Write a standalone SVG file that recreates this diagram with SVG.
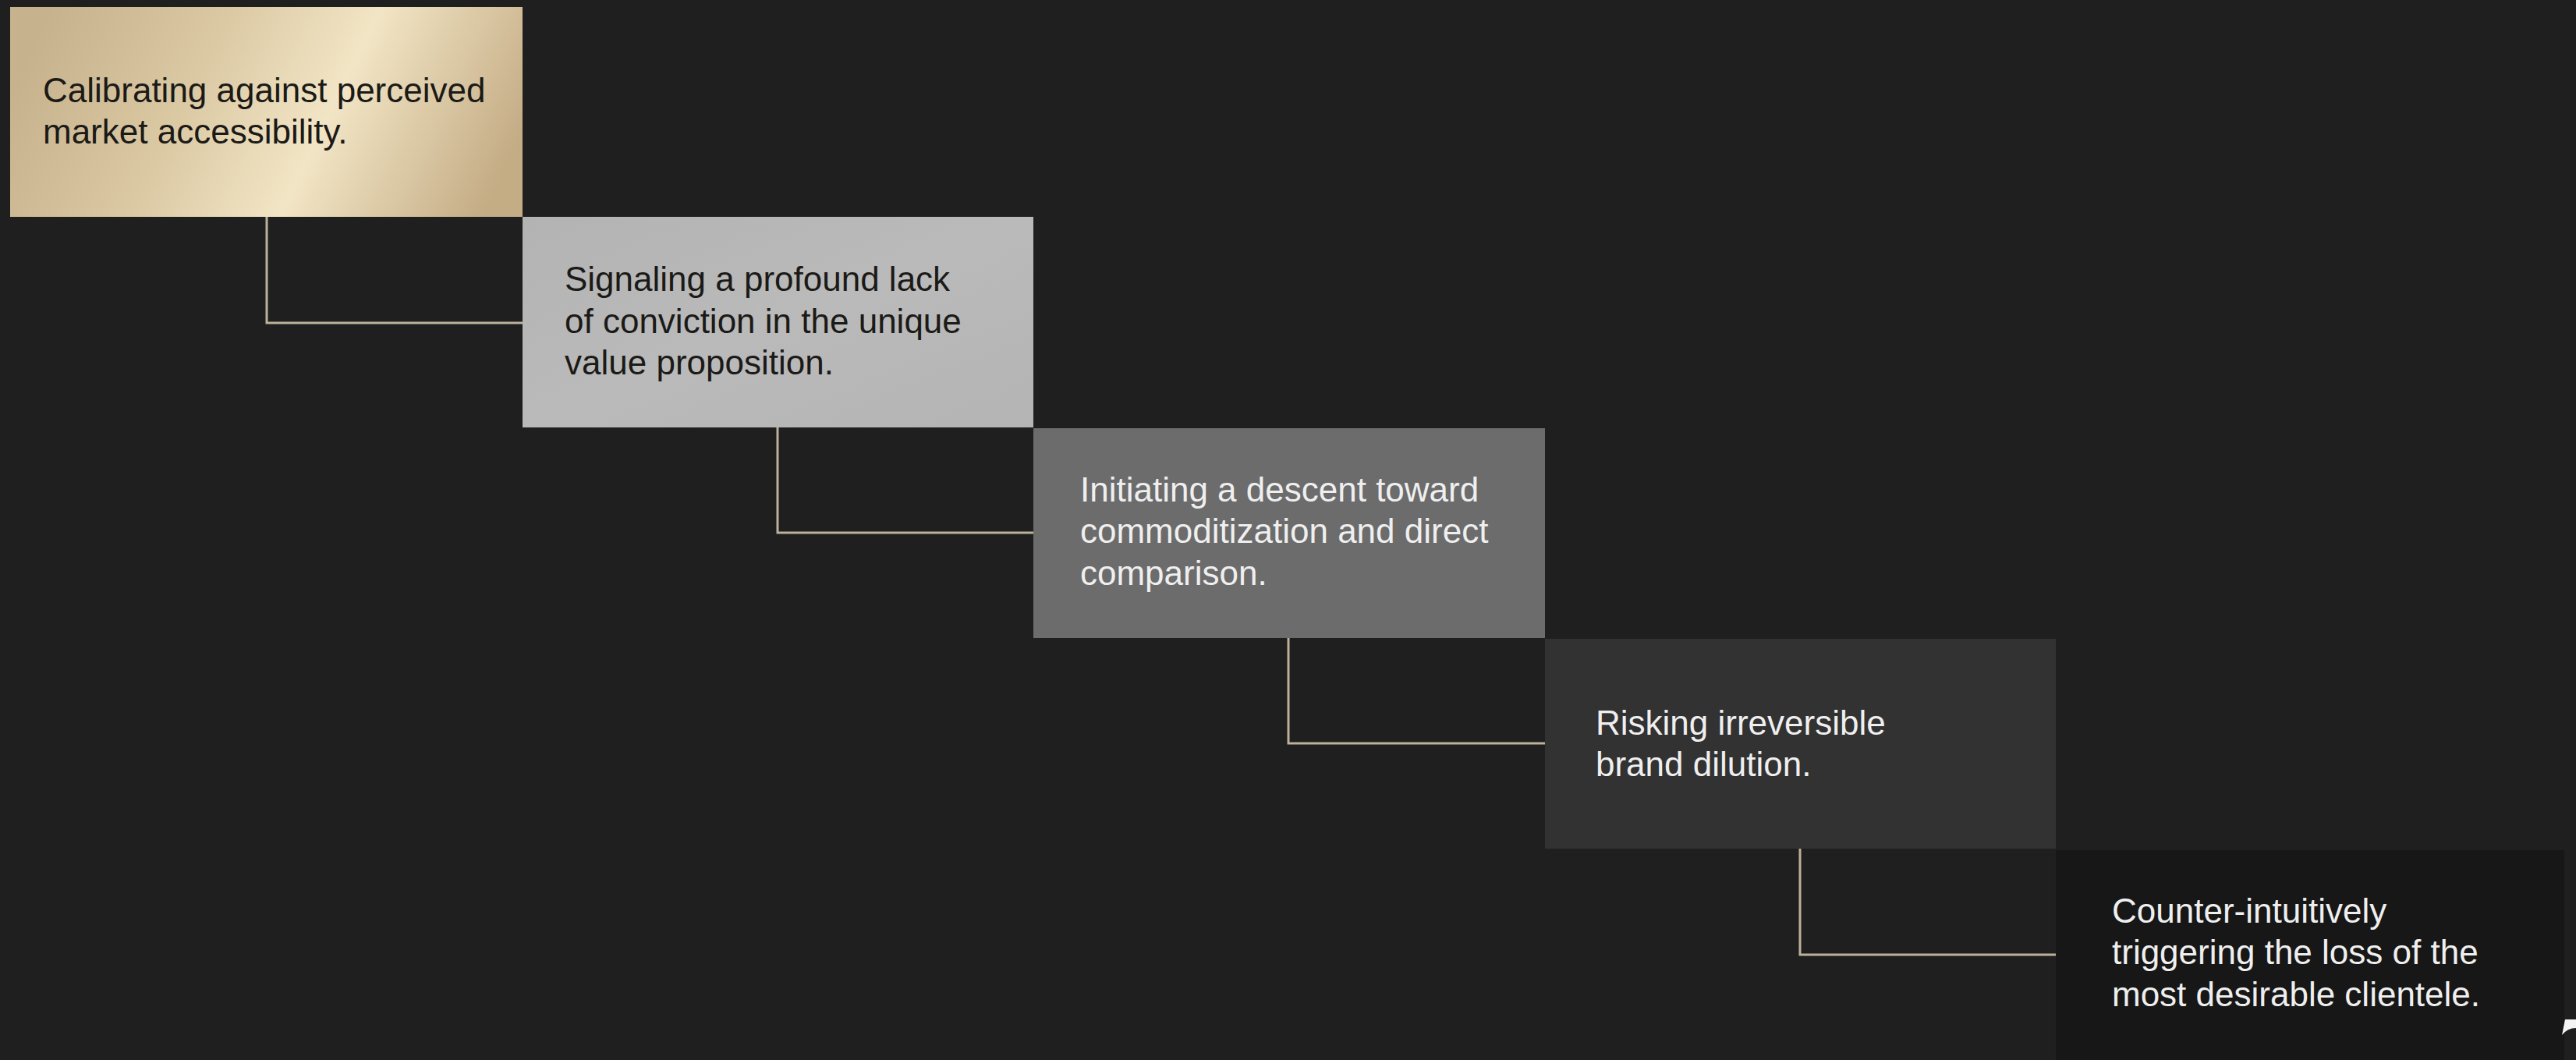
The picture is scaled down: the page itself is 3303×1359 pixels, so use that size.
<svg xmlns="http://www.w3.org/2000/svg" width="3303" height="1359" viewBox="0 0 3303 1359">
  <defs>
    <linearGradient id="gold" x1="0" y1="0.4" x2="1" y2="0.6">
      <stop offset="0" stop-color="#c6b28d"/>
      <stop offset="0.35" stop-color="#dccaa5"/>
      <stop offset="0.62" stop-color="#f2e5c5"/>
      <stop offset="1" stop-color="#c4ac85"/>
    </linearGradient>
    <linearGradient id="silver" x1="0" y1="0" x2="1" y2="1">
      <stop offset="0" stop-color="#b3b3b3"/>
      <stop offset="0.5" stop-color="#bababa"/>
      <stop offset="1" stop-color="#b4b4b4"/>
    </linearGradient>
    <style>
      .txt { font-family: "Liberation Sans", Arial, sans-serif; font-size: 44px; }
      .dark { fill: #1b1a17; }
      .light { fill: #efefef; }
      .conn { fill: none; stroke: #bcb19b; stroke-width: 3; }
    </style>
  </defs>
  <rect x="0" y="0" width="3303" height="1359" fill="#1f1f1f"/>

  <g id="connectors">
    <path class="conn" d="M342 278 V414 H670"/>
    <path class="conn" d="M997 548 V683 H1325"/>
    <path class="conn" d="M1652 818 V953 H1981"/>
    <path class="conn" d="M2308 1088 V1224 H2636"/>
  </g>

  <g id="node1">
    <rect x="13" y="9" width="657" height="269" fill="url(#gold)"/>
    <text class="txt dark" x="55" y="131">Calibrating against perceived</text>
    <text class="txt dark" x="55" y="184">market accessibility.</text>
  </g>

  <g id="node2">
    <rect x="670" y="278" width="655" height="270" fill="url(#silver)"/>
    <text class="txt dark" x="724" y="373">Signaling a profound lack</text>
    <text class="txt dark" x="724" y="427">of conviction in the unique</text>
    <text class="txt dark" x="724" y="480">value proposition.</text>
  </g>

  <g id="node3">
    <rect x="1325" y="549" width="656" height="269" fill="#6c6c6c"/>
    <text class="txt light" x="1385" y="643">Initiating a descent toward</text>
    <text class="txt light" x="1385" y="696">commoditization and direct</text>
    <text class="txt light" x="1385" y="750">comparison.</text>
  </g>

  <g id="node4">
    <rect x="1981" y="819" width="655" height="269" fill="#323232"/>
    <text class="txt light" x="2046" y="942">Risking irreversible</text>
    <text class="txt light" x="2046" y="995">brand dilution.</text>
  </g>

  <g id="node5">
    <rect x="2636" y="1090" width="652" height="269" fill="#171717"/>
    <text class="txt light" x="2708" y="1183">Counter-intuitively</text>
    <text class="txt light" x="2708" y="1236">triggering the loss of the</text>
    <text class="txt light" x="2708" y="1290">most desirable clientele.</text>
  </g>

  <path d="M3289 1307 L3303 1307 L3303 1318 Q3292 1318 3285 1327 Z" fill="#f4f4f4"/>
</svg>
